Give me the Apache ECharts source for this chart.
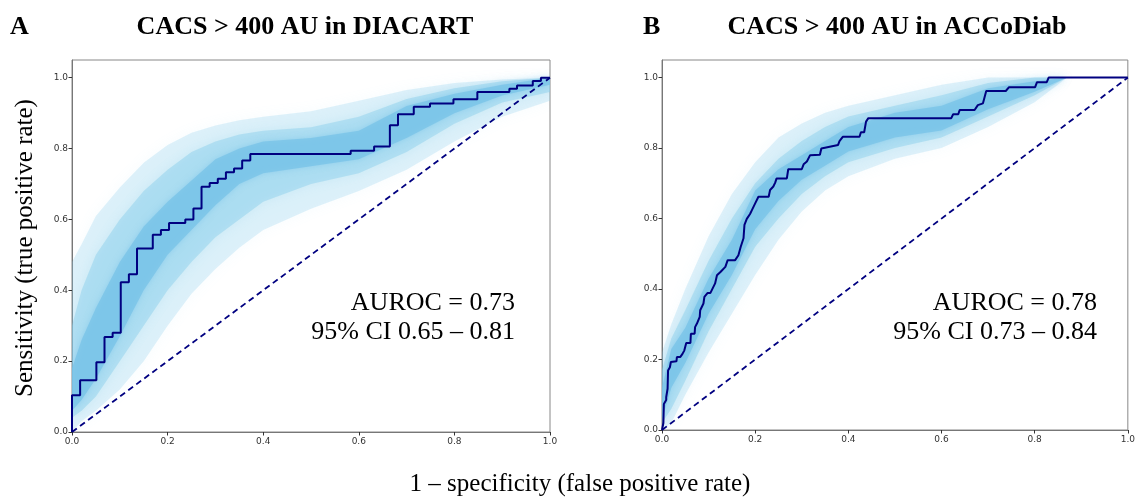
<!DOCTYPE html>
<html><head><meta charset="utf-8">
<script src="https://cdn.jsdelivr.net/npm/echarts@6/dist/echarts.min.js"></script>
<style>html,body{margin:0;padding:0;background:#fff}#c{width:1138px;height:497px}</style>
</head><body><div id="c"></div>
<script>
// ---- tick labels ----
const xTicks = [0, 0.2, 0.4, 0.6, 0.8, 1.0];
const yTicks = [0, 0.2, 0.4, 0.6, 0.8, 1.0];
// ---- chance line ----
const diagX = [0, 1];
const diagY = [0, 1];
// ---- panel A: DIACART ROC corners ----
const fprA = [0,0,0.017,0.017,0.051,0.051,0.068,0.068,0.085,0.085,0.102,0.102,0.119,0.119,0.136,0.136,0.169,0.169,0.186,0.186,0.203,0.203,0.237,0.237,0.254,0.254,0.271,0.271,0.288,0.288,0.305,0.305,0.322,0.322,0.339,0.339,0.356,0.356,0.373,0.373,0.583,0.583,0.632,0.632,0.665,0.665,0.682,0.682,0.715,0.715,0.749,0.749,0.798,0.798,0.848,0.848,0.915,0.915,0.931,0.931,0.964,0.964,0.981,0.981,1.0];
const tprA = [0,0.104,0.104,0.146,0.146,0.197,0.197,0.268,0.268,0.280,0.280,0.423,0.423,0.445,0.445,0.518,0.518,0.557,0.557,0.570,0.570,0.590,0.590,0.600,0.600,0.631,0.631,0.692,0.692,0.703,0.703,0.715,0.715,0.733,0.733,0.744,0.744,0.766,0.766,0.785,0.785,0.794,0.794,0.806,0.806,0.866,0.866,0.897,0.897,0.918,0.918,0.927,0.927,0.939,0.939,0.960,0.960,0.969,0.969,0.978,0.978,0.991,0.991,1.0,1.0];
// ---- panel A: bootstrap cloud envelopes ----
const bandXA    = [0,   0.02, 0.05, 0.1,  0.15, 0.2,  0.25, 0.3,  0.35, 0.4,  0.5,  0.6,  0.7,  0.8,  0.9,  1.0];
const outerUpA  = [0.48,0.53, 0.61, 0.69, 0.76, 0.81, 0.845,0.865,0.88, 0.89, 0.905,0.935,0.965,0.985,0.995,1.0];
const outerLowA = [0.0, 0.03, 0.06, 0.12, 0.20, 0.30, 0.39, 0.46, 0.52, 0.57, 0.63, 0.68, 0.74, 0.82, 0.89, 0.935];
const midUpA    = [0.30,0.40, 0.50, 0.60, 0.68, 0.74, 0.79, 0.82, 0.84, 0.85, 0.86, 0.89, 0.94, 0.97, 0.99, 1.0];
const midLowA   = [0.04,0.06, 0.10, 0.20, 0.30, 0.40, 0.48, 0.55, 0.60, 0.65, 0.70, 0.73, 0.79, 0.87, 0.93, 0.96];
const coreUpA   = [0.18,0.26, 0.35, 0.48, 0.58, 0.65, 0.71, 0.77, 0.80, 0.82, 0.83, 0.85, 0.92, 0.955,0.98, 1.0];
const coreLowA  = [0.06,0.09, 0.15, 0.27, 0.40, 0.50, 0.57, 0.64, 0.70, 0.73, 0.75, 0.77, 0.83, 0.90, 0.95, 0.98];
// ---- panel B: ACCoDiab ROC corners ----
const fprB = [0,0.003,0.004,0.009,0.009,0.012,0.013,0.017,0.019,0.031,0.032,0.039,0.044,0.048,0.052,0.061,0.062,0.070,0.071,0.075,0.081,0.082,0.089,0.091,0.098,0.104,0.114,0.118,0.126,0.136,0.141,0.157,0.164,0.169,0.175,0.177,0.182,0.189,0.193,0.200,0.207,0.229,0.232,0.239,0.243,0.246,0.268,0.271,0.300,0.304,0.311,0.318,0.339,0.342,0.378,0.381,0.388,0.424,0.427,0.434,0.438,0.443,0.621,0.625,0.636,0.639,0.671,0.678,0.689,0.696,0.738,0.745,0.801,0.805,0.826,0.830,1.0];
const tprB = [0,0.020,0.074,0.085,0.093,0.117,0.169,0.178,0.193,0.195,0.207,0.207,0.216,0.226,0.247,0.247,0.273,0.273,0.292,0.302,0.321,0.340,0.359,0.378,0.389,0.389,0.416,0.439,0.449,0.463,0.482,0.482,0.496,0.520,0.544,0.582,0.599,0.613,0.624,0.643,0.662,0.662,0.681,0.691,0.702,0.714,0.714,0.740,0.740,0.754,0.762,0.780,0.781,0.799,0.809,0.820,0.832,0.832,0.845,0.845,0.875,0.885,0.885,0.896,0.896,0.908,0.908,0.922,0.927,0.962,0.962,0.973,0.973,0.987,0.987,1.0,1.0];
// ---- panel B: bootstrap cloud envelopes ----
const bandXB    = [0,   0.02, 0.05, 0.1,  0.15, 0.2,  0.25, 0.3,  0.35, 0.4,  0.5,  0.6,  0.7,  0.8,  0.87];
const outerUpB  = [0.22,0.30, 0.40, 0.55, 0.67, 0.76, 0.83, 0.87, 0.90, 0.92, 0.95, 0.98, 1.0,  1.0,  1.0];
const outerLowB = [0.0, 0.02, 0.10, 0.22, 0.33, 0.44, 0.54, 0.62, 0.68, 0.72, 0.77, 0.80, 0.86, 0.93, 1.0];
const midUpB    = [0.17,0.26, 0.34, 0.48, 0.60, 0.70, 0.77, 0.82, 0.86, 0.89, 0.92, 0.95, 0.985,1.0,  1.0];
const midLowB   = [0.02,0.06, 0.14, 0.28, 0.40, 0.52, 0.60, 0.67, 0.72, 0.76, 0.80, 0.83, 0.89, 0.95, 1.0];
const coreUpB   = [0.12,0.23, 0.29, 0.43, 0.54, 0.68, 0.74, 0.78, 0.82, 0.86, 0.90, 0.92, 0.97, 0.99, 1.0];
const coreLowB  = [0.03,0.12, 0.19, 0.33, 0.44, 0.57, 0.65, 0.71, 0.75, 0.79, 0.83, 0.85, 0.91, 0.96, 1.0];

const zip = (xs, ys) => xs.map((x, i) => [x, ys[i]]);
const NAVY = '#000080';

// band polygon between lower and upper envelopes, mapped through the axes
function band(idx, xs, lo, up, color, blur, z) {
  return {
    type: 'custom', coordinateSystem: 'cartesian2d', xAxisIndex: idx, yAxisIndex: idx,
    data: zip(xs, lo), encode: { x: 0, y: 1 }, silent: true, z: z, animation: false, clip: true,
    renderItem: function (params, api) {
      if (params.dataIndex !== 0) return null;
      const top = xs.map((x, i) => api.coord([x, up[i]]));
      const bot = xs.map((x, i) => api.coord([x, lo[i]])).reverse();
      return { type: 'polygon', shape: { points: top.concat(bot) },
               style: { fill: color, shadowBlur: blur, shadowColor: color } };
    }
  };
}

function xAx(idx) {
  return {
    type: 'value', gridIndex: idx, min: 0, max: 1,
    axisLine: { show: true, lineStyle: { color: '#777', width: 1 } },
    axisTick: { show: true, length: 3.5, lineStyle: { color: '#333' }, customValues: xTicks },
    axisLabel: { customValues: xTicks, formatter: v => v.toFixed(1), fontFamily: 'DejaVu Sans', fontSize: 9, color: '#333', margin: 5 },
    splitLine: { show: false }
  };
}
function yAx(idx) {
  return {
    type: 'value', gridIndex: idx, min: 0, max: 1.05,
    axisLine: { show: true, lineStyle: { color: '#777', width: 1 } },
    axisTick: { show: true, length: 3.5, lineStyle: { color: '#333' }, customValues: yTicks },
    axisLabel: { customValues: yTicks, formatter: v => v.toFixed(1), fontFamily: 'DejaVu Sans', fontSize: 9, color: '#333', margin: 4 },
    splitLine: { show: false }
  };
}

const serif = 'Liberation Serif';
function txt(x, y, text, size, weight, align, rot) {
  return { type: 'text', x: x, y: y, rotation: rot || 0, z: 100,
    style: { text: text, fontFamily: serif, fontSize: size, fontWeight: weight, fill: '#000',
             align: align, verticalAlign: 'middle' } };
}

const OUT = 'rgba(135,206,235,0.26)', MID = 'rgba(135,206,235,0.45)', CORE = 'rgba(118,194,232,0.72)';
const series = [
  band(0, bandXA, outerLowA, outerUpA, OUT, 14, 1),
  band(0, bandXA, midLowA, midUpA, MID, 10, 2),
  band(0, bandXA, coreLowA, coreUpA, CORE, 6, 3),
  band(1, bandXB, outerLowB, outerUpB, OUT, 14, 1),
  band(1, bandXB, midLowB, midUpB, MID, 10, 2),
  band(1, bandXB, coreLowB, coreUpB, CORE, 6, 3),
  { type: 'line', xAxisIndex: 0, yAxisIndex: 0, data: zip(diagX, diagY), symbol: 'none',
    lineStyle: { color: NAVY, width: 1.8, type: [6, 4] }, z: 5, animation: false },
  { type: 'line', xAxisIndex: 1, yAxisIndex: 1, data: zip(diagX, diagY), symbol: 'none',
    lineStyle: { color: NAVY, width: 1.8, type: [6, 4] }, z: 5, animation: false },
  { type: 'line', xAxisIndex: 0, yAxisIndex: 0, data: zip(fprA, tprA), symbol: 'none',
    lineStyle: { color: NAVY, width: 2 }, z: 6, animation: false },
  { type: 'line', xAxisIndex: 1, yAxisIndex: 1, data: zip(fprB, tprB), symbol: 'none',
    lineStyle: { color: NAVY, width: 2 }, z: 6, animation: false }
];

const chart = echarts.init(document.getElementById('c'), null, { renderer: 'canvas' });
chart.setOption({
  backgroundColor: '#fff',
  animation: false,
  grid: [
    { left: 72, top: 60, width: 478, height: 372, show: true, borderColor: '#888', borderWidth: 1, backgroundColor: 'transparent' },
    { left: 662, top: 60, width: 472, height: 370, show: true, borderColor: '#888', borderWidth: 1, backgroundColor: 'transparent' }
  ],
  xAxis: [xAx(0), xAx(1)],
  yAxis: [yAx(0), yAx(1)],
  series: series,
  graphic: [
    txt(10, 27, 'A', 26, 'bold', 'left'),
    txt(305, 27, 'CACS > 400 AU in DIACART', 26, 'bold', 'center'),
    txt(643, 27, 'B', 26, 'bold', 'left'),
    txt(897, 27, 'CACS > 400 AU in ACCoDiab', 26, 'bold', 'center'),
    txt(25, 248, 'Sensitivity (true positive rate)', 25, 'normal', 'center', Math.PI / 2),
    txt(580, 484, '1 \u2013 specificity (false positive rate)', 25, 'normal', 'center'),
    txt(515, 303, 'AUROC = 0.73', 26, 'normal', 'right'),
    txt(515, 332, '95% CI 0.65 \u2013 0.81', 26, 'normal', 'right'),
    txt(1097, 303, 'AUROC = 0.78', 26, 'normal', 'right'),
    txt(1097, 332, '95% CI 0.73 \u2013 0.84', 26, 'normal', 'right')
  ]
});
</script></body></html>
